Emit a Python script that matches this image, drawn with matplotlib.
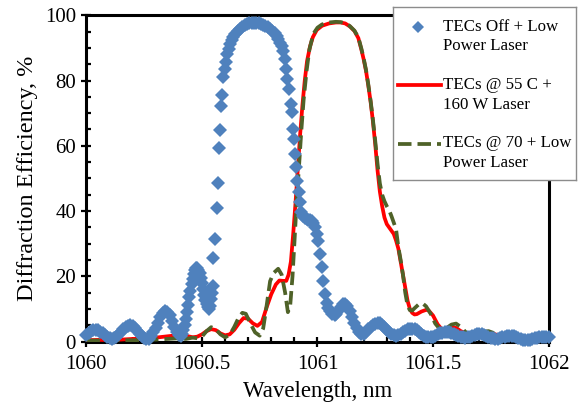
import matplotlib
matplotlib.use("Agg")
import matplotlib.pyplot as plt
from matplotlib.lines import Line2D
from matplotlib.ticker import MultipleLocator, FuncFormatter

# TECs Off + Low Power Laser (blue diamonds)
off_wl = [
    1060.00, 1060.01, 1060.02, 1060.03, 1060.04, 1060.05, 1060.06, 1060.07, 1060.08, 1060.09,
    1060.10, 1060.11, 1060.12, 1060.13, 1060.14, 1060.15, 1060.16, 1060.17, 1060.18, 1060.19,
    1060.20, 1060.21, 1060.22, 1060.23, 1060.24, 1060.25, 1060.26, 1060.27, 1060.28, 1060.29,
    1060.30, 1060.31, 1060.32, 1060.33, 1060.34, 1060.35, 1060.36, 1060.37, 1060.38, 1060.39,
    1060.40, 1060.41, 1060.415, 1060.42, 1060.425, 1060.43, 1060.435, 1060.44, 1060.445, 1060.45,
    1060.455, 1060.46, 1060.465, 1060.47, 1060.475, 1060.48, 1060.485, 1060.49, 1060.495, 1060.50,
    1060.505, 1060.51, 1060.515, 1060.52, 1060.525, 1060.53, 1060.535, 1060.54, 1060.545, 1060.548,
    1060.55, 1060.556, 1060.564, 1060.571, 1060.575, 1060.578, 1060.581, 1060.585, 1060.592, 1060.60,
    1060.604, 1060.61, 1060.615, 1060.621, 1060.628, 1060.636, 1060.645, 1060.655, 1060.665, 1060.675,
    1060.685, 1060.695, 1060.705, 1060.715, 1060.725, 1060.735, 1060.745, 1060.755, 1060.765, 1060.775,
    1060.785, 1060.795, 1060.805, 1060.815, 1060.823, 1060.83, 1060.838, 1060.845, 1060.852, 1060.858,
    1060.864, 1060.869, 1060.878, 1060.885, 1060.889, 1060.895, 1060.899, 1060.903, 1060.908, 1060.913,
    1060.918, 1060.924, 1060.93, 1060.937, 1060.945, 1060.953, 1060.96, 1060.967, 1060.975, 1060.982,
    1060.99, 1060.997, 1061.003, 1061.011, 1061.018, 1061.025, 1061.032, 1061.04, 1061.047, 1061.054,
    1061.065, 1061.076, 1061.08, 1061.09, 1061.10, 1061.11, 1061.12, 1061.13, 1061.14, 1061.15,
    1061.16, 1061.17, 1061.18, 1061.19, 1061.20, 1061.21, 1061.22, 1061.23, 1061.24, 1061.25,
    1061.26, 1061.27, 1061.28, 1061.29, 1061.30, 1061.31, 1061.32, 1061.33, 1061.34, 1061.35,
    1061.36, 1061.37, 1061.38, 1061.39, 1061.40, 1061.41, 1061.42, 1061.43, 1061.44, 1061.45,
    1061.46, 1061.47, 1061.48, 1061.49, 1061.50, 1061.51, 1061.52, 1061.53, 1061.54, 1061.55,
    1061.56, 1061.57, 1061.58, 1061.59, 1061.60, 1061.61, 1061.62, 1061.63, 1061.64, 1061.65,
    1061.66, 1061.67, 1061.68, 1061.69, 1061.70, 1061.71, 1061.72, 1061.73, 1061.74, 1061.75,
    1061.76, 1061.77, 1061.78, 1061.79, 1061.80, 1061.81, 1061.82, 1061.83, 1061.84, 1061.85,
    1061.86, 1061.87, 1061.88, 1061.89, 1061.90, 1061.91, 1061.92, 1061.93, 1061.94, 1061.95,
    1061.96, 1061.97, 1061.98, 1061.99, 1062.00,
]
off_de = [
    2.0, 2.6, 3.1, 3.4, 3.5, 3.4, 3.0, 2.5, 2.0, 1.5,
    1.1, 0.9, 1.0, 1.5, 2.2, 3.0, 3.8, 4.5, 4.9, 5.0,
    4.8, 4.2, 3.3, 2.4, 1.6, 1.0, 0.8, 0.9, 1.6, 2.8,
    4.2, 5.8, 7.4, 8.7, 9.4, 9.2, 8.0, 6.3, 4.5, 2.9,
    1.9, 1.7, 2.3, 3.5, 5.0, 7.0, 9.0, 11.3, 13.5, 15.6,
    17.5, 19.3, 20.7, 21.8, 22.5, 22.6, 22.0, 21.0, 19.5, 17.8,
    16.0, 14.2, 12.8, 11.5, 10.5, 10.0, 11.0, 13.0, 15.0, 17.0,
    25.7, 31.3, 40.9, 48.6, 59.4, 64.7, 72.3, 75.6, 81.0, 83.6,
    85.6, 88.1, 89.8, 91.2, 92.3, 93.2, 94.3, 95.2, 95.8, 96.5,
    97.0, 97.3, 97.5, 97.6, 97.7, 97.6, 97.5, 97.3, 97.1, 96.8,
    96.3, 95.8, 95.2, 94.6, 93.8, 92.8, 91.6, 90.5, 89.0, 86.5,
    83.5, 80.5, 77.4, 72.8, 70.3, 65.2, 62.1, 57.5, 53.4, 49.3,
    45.7, 42.7, 39.6, 38.5, 38.0, 37.6, 37.4, 37.2, 37.1, 36.3,
    35.0, 33.0, 30.9, 26.9, 22.8, 18.5, 14.6, 11.8, 10.2, 9.5,
    8.5, 8.2, 8.3, 9.5, 10.6, 11.4, 11.5, 10.8, 9.4, 7.6,
    5.8, 4.2, 3.0, 2.3, 2.4, 2.9, 3.7, 4.5, 5.1, 5.5,
    5.7, 5.6, 5.1, 4.4, 3.6, 2.8, 2.2, 1.9, 1.8, 1.9,
    2.3, 2.8, 3.3, 3.7, 3.9, 3.9, 3.8, 3.4, 2.9, 2.3,
    1.8, 1.5, 1.3, 1.3, 1.5, 1.8, 2.2, 2.5, 2.7, 2.9,
    3.0, 2.9, 2.7, 2.4, 2.0, 1.7, 1.4, 1.3, 1.2, 1.3,
    1.5, 1.8, 2.1, 2.3, 2.4, 2.3, 2.1, 1.8, 1.5, 1.2,
    1.0, 0.9, 0.9, 1.1, 1.3, 1.5, 1.7, 1.8, 1.8, 1.7,
    1.4, 1.1, 0.8, 0.6, 0.5, 0.5, 0.6, 0.8, 1.0, 1.2,
    1.3, 1.4, 1.4, 1.4, 1.5,
]

# TECs @ 55 C + 160 W Laser (red solid)
hot_wl = [
    1060.00, 1060.05, 1060.10, 1060.15, 1060.20, 1060.25, 1060.30, 1060.35, 1060.40, 1060.43,
    1060.46, 1060.48, 1060.50, 1060.52, 1060.54, 1060.56, 1060.58, 1060.60, 1060.62, 1060.64,
    1060.66, 1060.68, 1060.70, 1060.72, 1060.74, 1060.76, 1060.78, 1060.80, 1060.82, 1060.835,
    1060.85, 1060.865, 1060.875, 1060.885, 1060.895, 1060.905, 1060.915, 1060.925, 1060.935, 1060.945,
    1060.955, 1060.968, 1060.98, 1060.997, 1061.02, 1061.05, 1061.08, 1061.10, 1061.12, 1061.14,
    1061.16, 1061.177, 1061.19, 1061.20, 1061.21, 1061.22, 1061.23, 1061.24, 1061.25, 1061.26,
    1061.27, 1061.28, 1061.29, 1061.30, 1061.31, 1061.32, 1061.33, 1061.34, 1061.35, 1061.36,
    1061.37, 1061.38, 1061.39, 1061.40, 1061.41, 1061.42, 1061.43, 1061.45, 1061.47, 1061.48,
    1061.50, 1061.52, 1061.54, 1061.56, 1061.58, 1061.60, 1061.62, 1061.64, 1061.66, 1061.68,
    1061.70, 1061.72, 1061.75, 1061.78, 1061.82, 1061.86, 1061.90, 1061.94, 1061.97, 1062.00,
]
hot_de = [
    0.4, 0.5, 0.5, 0.6, 0.8, 1.0, 1.2, 1.6, 2.0, 1.8,
    1.3, 1.5, 2.2, 3.2, 3.8, 3.5, 2.5, 1.9, 2.2, 3.6,
    5.6, 7.2, 7.0, 5.6, 4.8, 6.0, 10.5, 14.5, 17.5, 18.7,
    18.6, 18.6, 20.5, 24.5, 33.0, 42.5, 53.0, 63.5, 72.5, 80.0,
    86.0, 90.5, 93.3, 95.5, 96.8, 97.5, 97.8, 97.8, 97.5, 96.6,
    95.2, 93.0, 89.5, 86.5, 83.0, 78.5, 73.5, 67.5, 60.5, 52.5,
    46.0, 41.5, 38.0, 36.0, 35.0, 34.0, 33.0, 31.0, 28.5, 24.5,
    20.5, 16.5, 12.5, 10.0, 8.8, 8.3, 8.4, 9.2, 9.7, 9.6,
    8.0, 5.3, 3.6, 3.8, 4.3, 4.2, 3.2, 2.6, 2.6, 2.7,
    2.8, 2.9, 2.6, 2.0, 1.7, 1.5, 1.3, 1.1, 1.0, 1.0,
]

# TECs @ 70 + Low Power Laser (green dashed)
warm_wl = [
    1060.00, 1060.05, 1060.10, 1060.15, 1060.20, 1060.25, 1060.30, 1060.35, 1060.40, 1060.43,
    1060.46, 1060.48, 1060.50, 1060.52, 1060.54, 1060.56, 1060.58, 1060.60, 1060.62, 1060.64,
    1060.66, 1060.675, 1060.69, 1060.71, 1060.73, 1060.75, 1060.765, 1060.78, 1060.795, 1060.81,
    1060.83, 1060.845, 1060.86, 1060.872, 1060.882, 1060.892, 1060.90, 1060.91, 1060.92, 1060.93,
    1060.94, 1060.953, 1060.965, 1060.982, 1061.00, 1061.02, 1061.05, 1061.08, 1061.10, 1061.12,
    1061.14, 1061.16, 1061.177, 1061.19, 1061.20, 1061.21, 1061.22, 1061.23, 1061.24, 1061.25,
    1061.26, 1061.27, 1061.28, 1061.29, 1061.30, 1061.31, 1061.32, 1061.33, 1061.34, 1061.35,
    1061.36, 1061.37, 1061.38, 1061.39, 1061.40, 1061.41, 1061.42, 1061.44, 1061.455, 1061.47,
    1061.49, 1061.51, 1061.53, 1061.545, 1061.56, 1061.58, 1061.60, 1061.62, 1061.64, 1061.66,
    1061.68, 1061.70, 1061.72, 1061.74, 1061.76, 1061.78, 1061.82, 1061.86, 1061.90, 1061.94,
    1061.97, 1062.00,
]
warm_de = [
    0.3, 0.3, 0.3, 0.4, 0.4, 0.5, 0.6, 0.8, 1.0, 0.8,
    1.2, 1.0, 1.5, 3.2, 4.4, 3.8, 2.2, 1.3, 2.0, 4.5,
    7.5, 8.8, 8.5, 5.5, 2.8, 1.8, 4.0, 11.0, 18.5, 21.0,
    22.3, 20.5, 15.0, 9.0, 11.0, 20.0, 30.0, 43.0, 53.5, 64.5,
    74.0, 83.0, 89.5, 94.3, 96.2, 97.2, 97.8, 98.0, 97.9, 97.6,
    96.7, 95.3, 93.2, 89.8, 86.8, 83.3, 78.8, 73.8, 68.0, 61.5,
    54.5, 48.5, 45.0, 43.0, 41.5, 40.3, 38.5, 36.5, 34.5, 29.0,
    25.0, 20.5, 15.0, 11.0, 9.6, 9.5, 10.2, 11.5, 11.7, 10.8,
    8.5, 5.5, 3.8, 3.5, 4.2, 5.2, 5.5, 4.5, 3.0, 2.0,
    1.8, 2.3, 3.0, 3.2, 2.7, 2.0, 1.7, 1.5, 1.3, 1.1,
    1.0, 0.8,
]

series_labels = [
    "TECs Off + Low\nPower Laser",
    "TECs @ 55 C +\n160 W Laser",
    "TECs @ 70 + Low\nPower Laser",
]
x_ticks = [1060, 1060.5, 1061, 1061.5, 1062]
y_ticks = [0, 20, 40, 60, 80, 100]

BLUE = "#4F81BD"
RED = "#FF0000"
GREEN = "#4F6228"

plt.rcParams["font.family"] = ["Liberation Serif", "DejaVu Serif"]

fig = plt.figure(figsize=(5.8, 4.11), dpi=100)
ax = fig.add_axes([0.149, 0.169, 0.7967, 0.7938])

ax.plot(hot_wl, hot_de, color=RED, lw=2.7, zorder=3, solid_capstyle="round")
ax.plot(warm_wl, warm_de, color=GREEN, lw=2.7, dashes=(3.6, 1.6), zorder=4)
ax.plot(off_wl, off_de, ls="none", marker="D", ms=6.8, color=BLUE,
        markeredgewidth=0, zorder=5, clip_on=False)

ax.set_xlim(1060, 1062)
ax.set_ylim(0, 100)
ax.set_xticks(x_ticks)
ax.set_yticks(y_ticks)
ax.xaxis.set_major_formatter(FuncFormatter(lambda v, p: f"{v:g}"))
ax.xaxis.set_minor_locator(MultipleLocator(0.1))
ax.yaxis.set_minor_locator(MultipleLocator(5))
ax.tick_params(which="major", direction="inout", length=7, width=1.6,
               labelsize=15, colors="black")
ax.tick_params(which="minor", direction="in", length=3.5, width=1.6)
ax.tick_params(axis="x", which="major", pad=6)
ax.tick_params(axis="y", which="major", pad=4)
for side in ["left", "bottom", "top", "right"]:
    ax.spines[side].set_linewidth(2.2)
    ax.spines[side].set_color("black")

ax.set_xlabel("Wavelength, nm", fontsize=16.5, labelpad=5)
ax.set_ylabel("Diffraction Efficiency, %", fontsize=17.5, labelpad=5)

# legend box, first text line aligned with the sample like the original
leg = fig.add_axes([0.677, 0.562, 0.316, 0.4217], zorder=10)
leg.set_xlim(0, 183.3)
leg.set_ylim(173.3, 0)
leg.set_xticks([])
leg.set_yticks([])
for s in leg.spines.values():
    s.set_color("#8C8C8C")
    s.set_linewidth(1.0)

handles = [
    Line2D([25.6], [20], ls="none", marker="D", ms=6.2, color=BLUE, markeredgewidth=0),
    Line2D([5.3, 48], [78.3, 78.3], color=RED, lw=2.7),
    Line2D([5.3, 48], [137.3, 137.3], color=GREEN, lw=2.7, dashes=(3.6, 1.6)),
]
first_rows = [20, 78.3, 136.3]
for h, label, y0 in zip(handles, series_labels, first_rows):
    leg.add_line(h)
    for k, line in enumerate(label.split("\n")):
        leg.text(50, y0 + 19.5 * k, line, fontsize=12.2, va="center", ha="left")

fig.savefig("out.png", dpi=100)
